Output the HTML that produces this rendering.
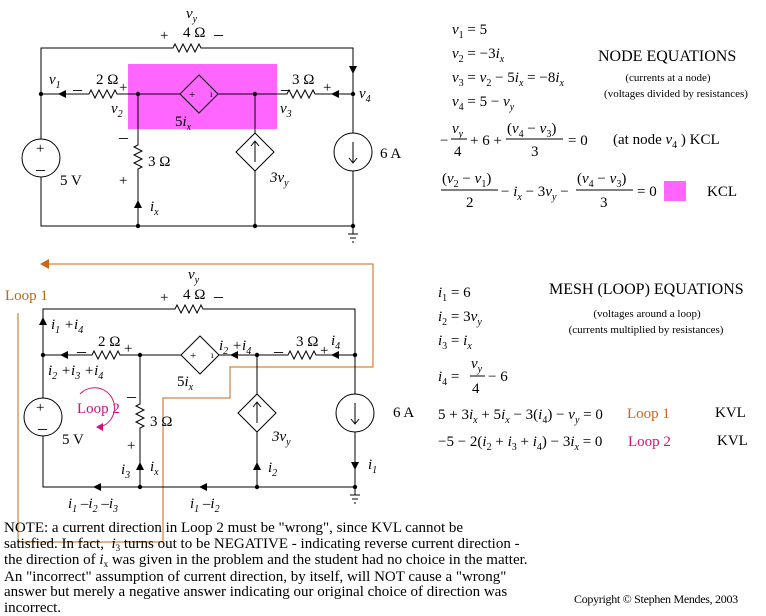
<!DOCTYPE html>
<html><head><meta charset="utf-8"><style>
html,body{margin:0;padding:0;background:#fff;}
svg{display:block;font-family:"Liberation Serif",serif;}
.t{font-size:15px;}
.i{font-style:italic;}
.s{font-size:11px;}
.note{position:absolute;left:4px;top:521px;font:15px/15.6px "Liberation Serif",serif;letter-spacing:0px;color:#000;white-space:nowrap;}
.sb{font-size:9px;position:relative;top:3px;}
</style></head><body>
<div style="position:relative;width:766px;height:616px;overflow:hidden">
<svg width="766" height="616" viewBox="0 0 766 616" xmlns="http://www.w3.org/2000/svg">
<rect x="128" y="64" width="149" height="65" fill="#ff66ff"/>
<g stroke="#000" stroke-width="1" fill="none">
<path d="M41,139V48H173l2,-4 4,8 4,-8 4,8 4,-8 4,8 4,-8 2,4H353V133"/>
<path d="M353,171V226H41V177"/>
<path d="M41,94H89l2,-4 4,8 4,-8 4,8 4,-8 4,8 4,-8 2,4H180"/>
<path d="M218,94H287l2,-4 4,8 4,-8 4,8 4,-8 4,8 4,-8 2,4H353"/>
<path d="M138,94V145l-4,2 8,4 -8,4 8,4 -8,4 8,4 -4,2V226"/>
<path d="M199,75L218,94 199,113 180,94Z"/>
<path d="M255,94V133M255,171V226"/>
<path d="M255,133L274,152 255,171 236,152Z"/>
<circle cx="41" cy="158" r="19"/><circle cx="353" cy="152" r="19"/>
<path d="M255,162V142M251,146L255,141 259,146"/>
<path d="M353,142V162M349,158L353,163 357,158"/>
<path d="M348,234H358M350,238H356M352,242H354M353,226V234"/>
</g>
<g fill="#000">
<path d="M349,66H357L353,74Z"/>
<path d="M58,94L66,90V98Z"/>
<path d="M331,94L339,90V98Z"/>
<path d="M138,200L134,208H142Z"/>
<circle cx="41" cy="94" r="2.2"/><circle cx="138" cy="94" r="2.2"/><circle cx="255" cy="94" r="2.2"/><circle cx="353" cy="94" r="2.2"/>
<circle cx="138" cy="226" r="2.2"/><circle cx="255" cy="226" r="2.2"/><circle cx="353" cy="226" r="2.2"/>
</g>
<g class="t">
<text x="186" y="18" class="i">v<tspan font-size="10" dy="4">y</tspan></text>
<text x="160" y="40">+</text><text x="183" y="37">4 Ω</text><text x="214" y="40" font-size="18">–</text>
<text x="49" y="84" class="i">v<tspan font-size="10" dy="4">1</tspan></text>
<text x="73" y="95" font-size="18">–</text><text x="96" y="84">2 Ω</text><text x="119" y="92">+</text>
<text x="111" y="113" class="i">v<tspan font-size="10" dy="4">2</tspan></text>
<text x="189" y="98" font-size="11">+</text><text x="210" y="97" font-size="9">ı</text>
<text x="175" y="126">5<tspan class="i">i</tspan><tspan font-size="10" dy="4" class="i">x</tspan></text>
<text x="281" y="95" font-size="18">–</text><text x="292" y="84">3 Ω</text><text x="323" y="92">+</text>
<text x="280" y="113" class="i">v<tspan font-size="10" dy="4">3</tspan></text>
<text x="359" y="98" class="i">v<tspan font-size="10" dy="4">4</tspan></text>
<text x="119" y="143" font-size="18">–</text><text x="148" y="166">3 Ω</text><text x="119" y="185">+</text>
<text x="150" y="211" class="i">i<tspan font-size="10" dy="4">x</tspan></text>
<text x="36" y="153">+</text><text x="36" y="175" font-size="18">–</text>
<text x="60" y="185">5 V</text>
<text x="270" y="182" class="i">3v<tspan font-size="10" dy="4">y</tspan></text>
<text x="380" y="158">6 A</text>
</g>

<g stroke="#cc6611" fill="none" stroke-width="1">
<path d="M48,264H373V367H230V398H163V542H18V313"/>
</g>
<path d="M40,264L49,259V269Z" fill="#cc6611"/>
<text x="5" y="300" class="t" fill="#b86a10">Loop 1</text>
<g stroke="#000" stroke-width="1" fill="none">
<path d="M43,398V309H175l2,-4 4,8 4,-8 4,8 4,-8 4,8 4,-8 2,4H355V394"/>
<path d="M355,432V487H43V436"/>
<path d="M43,355H92l2,-4 4,8 4,-8 4,8 4,-8 4,8 4,-8 2,4H181"/>
<path d="M219,355H288l2,-4 4,8 4,-8 4,8 4,-8 4,8 4,-8 2,4H355"/>
<path d="M140,355V404l-4,2 8,4 -8,4 8,4 -8,4 8,4 -4,2V487"/>
<path d="M200,336L219,355 200,374 181,355Z"/>
<path d="M257,355V394M257,432V487"/>
<path d="M257,394L276,413 257,432 238,413Z"/>
<circle cx="43" cy="417" r="19"/><circle cx="355" cy="413" r="19"/>
<path d="M257,423V403M253,407L257,402 261,407"/>
<path d="M355,403V423M351,419L355,424 359,419"/>
<path d="M350,495H360M352,499H358M354,503H356M355,487V495"/>
</g>
<path d="M80,394A20,20 0 1 1 100,427" stroke="#d0107a" fill="none" stroke-width="1"/>
<path d="M96,427L103,423V431Z" fill="#d0107a"/>
<text x="77" y="413" class="t" fill="#d0107a">Loop 2</text>
<g fill="#000">
<path d="M43,317L39,325H47Z"/>
<path d="M60,355L68,351V359Z"/>
<path d="M230,355L238,351V359Z"/>
<path d="M331,355L339,351V359Z"/>
<path d="M140,462L136,470H144Z"/>
<path d="M257,462L253,470H261Z"/>
<path d="M351,462H359L355,470Z"/>
<path d="M93,487L101,483V491Z"/>
<path d="M199,487L207,483V491Z"/>
<circle cx="43" cy="355" r="2.2"/><circle cx="140" cy="355" r="2.2"/><circle cx="257" cy="355" r="2.2"/><circle cx="355" cy="355" r="2.2"/>
<circle cx="140" cy="487" r="2.2"/><circle cx="257" cy="487" r="2.2"/><circle cx="355" cy="487" r="2.2"/>
</g>
<g class="t">
<text x="188" y="279" class="i">v<tspan font-size="10" dy="4">y</tspan></text>
<text x="160" y="302">+</text><text x="183" y="299">4 Ω</text><text x="214" y="302" font-size="18">–</text>
<text x="51" y="329" class="i">i<tspan font-size="10" dy="4">1</tspan><tspan dy="-4"> +i</tspan><tspan font-size="10" dy="4">4</tspan></text>
<text x="77" y="357" font-size="18">–</text><text x="98" y="346">2 Ω</text><text x="124" y="353">+</text>
<text x="48" y="375" class="i">i<tspan font-size="10" dy="4">2</tspan><tspan dy="-4"> +i</tspan><tspan font-size="10" dy="4">3</tspan><tspan dy="-4"> +i</tspan><tspan font-size="10" dy="4">4</tspan></text>
<text x="190" y="359" font-size="11">+</text><text x="211" y="358" font-size="9">ı</text>
<text x="177" y="386">5<tspan class="i">i</tspan><tspan font-size="10" dy="4" class="i">x</tspan></text>
<text x="219" y="350" class="i">i<tspan font-size="10" dy="4">2</tspan><tspan dy="-4"> +i</tspan><tspan font-size="10" dy="4">4</tspan></text>
<text x="274" y="357" font-size="18">–</text><text x="296" y="346">3 Ω</text><text x="320" y="355">+</text>
<text x="331" y="345" class="i">i<tspan font-size="10" dy="4">4</tspan></text>
<text x="127" y="402" font-size="18">–</text><text x="150" y="426">3 Ω</text><text x="127" y="450">+</text>
<text x="36" y="412">+</text><text x="38" y="434" font-size="18">–</text>
<text x="62" y="444">5 V</text>
<text x="121" y="474" class="i">i<tspan font-size="10" dy="4">3</tspan></text>
<text x="150" y="471" class="i">i<tspan font-size="10" dy="4">x</tspan></text>
<text x="272" y="441" class="i">3v<tspan font-size="10" dy="4">y</tspan></text>
<text x="268" y="472" class="i">i<tspan font-size="10" dy="4">2</tspan></text>
<text x="368" y="469" class="i">i<tspan font-size="10" dy="4">1</tspan></text>
<text x="393" y="417">6 A</text>
<text x="68" y="508" class="i">i<tspan font-size="10" dy="4">1</tspan><tspan dy="-4"> –i</tspan><tspan font-size="10" dy="4">2</tspan><tspan dy="-4"> –i</tspan><tspan font-size="10" dy="4">3</tspan></text>
<text x="190" y="508" class="i">i<tspan font-size="10" dy="4">1</tspan><tspan dy="-4"> –i</tspan><tspan font-size="10" dy="4">2</tspan></text>
</g>

<g class="t">
<text x="452" y="34"><tspan class="i">v</tspan><tspan font-size="10" dy="4">1</tspan><tspan dy="-4"> = 5</tspan></text>
<text x="452" y="58"><tspan class="i">v</tspan><tspan font-size="10" dy="4">2</tspan><tspan dy="-4"> = −3</tspan><tspan class="i">i</tspan><tspan font-size="10" dy="4" class="i">x</tspan></text>
<text x="452" y="82"><tspan class="i">v</tspan><tspan font-size="10" dy="4">3</tspan><tspan dy="-4"> = </tspan><tspan class="i">v</tspan><tspan font-size="10" dy="4">2</tspan><tspan dy="-4"> − 5</tspan><tspan class="i">i</tspan><tspan font-size="10" dy="4" class="i">x</tspan><tspan dy="-4"> = −8</tspan><tspan class="i">i</tspan><tspan font-size="10" dy="4" class="i">x</tspan></text>
<text x="452" y="106"><tspan class="i">v</tspan><tspan font-size="10" dy="4">4</tspan><tspan dy="-4"> = 5 − </tspan><tspan class="i">v</tspan><tspan font-size="10" dy="4" class="i">y</tspan></text>
<text x="598" y="61" font-size="16">NODE EQUATIONS</text>
<text x="668" y="81" class="s" text-anchor="middle">(currents at a node)</text>
<text x="676" y="97" class="s" text-anchor="middle">(voltages divided by resistances)</text>
<text x="440" y="145">−</text>
<text x="452" y="133" class="i">v<tspan font-size="10" dy="4">y</tspan></text>
<line x1="451" y1="139" x2="467" y2="139" stroke="#000"/>
<text x="454" y="156">4</text>
<text x="470" y="145">+ 6 +</text>
<text x="507" y="133">(<tspan class="i">v</tspan><tspan font-size="10" dy="4">4</tspan><tspan dy="-4"> − </tspan><tspan class="i">v</tspan><tspan font-size="10" dy="4">3</tspan><tspan dy="-4">)</tspan></text>
<line x1="506" y1="139" x2="563" y2="139" stroke="#000"/>
<text x="531" y="156">3</text>
<text x="568" y="145">= 0</text>
<text x="613" y="144">(at node  <tspan class="i">v</tspan><tspan font-size="10" dy="4">4</tspan><tspan dy="-4">  )   KCL</tspan></text>
<text x="442" y="183">(<tspan class="i">v</tspan><tspan font-size="10" dy="4">2</tspan><tspan dy="-4"> − </tspan><tspan class="i">v</tspan><tspan font-size="10" dy="4">1</tspan><tspan dy="-4">)</tspan></text>
<line x1="441" y1="190" x2="498" y2="190" stroke="#000"/>
<text x="466" y="207">2</text>
<text x="501" y="196">− <tspan class="i">i</tspan><tspan font-size="10" dy="4" class="i">x</tspan><tspan dy="-4"> − 3</tspan><tspan class="i">v</tspan><tspan font-size="10" dy="4" class="i">y</tspan><tspan dy="-4"> −</tspan></text>
<text x="577" y="183">(<tspan class="i">v</tspan><tspan font-size="10" dy="4">4</tspan><tspan dy="-4"> − </tspan><tspan class="i">v</tspan><tspan font-size="10" dy="4">3</tspan><tspan dy="-4">)</tspan></text>
<line x1="576" y1="190" x2="633" y2="190" stroke="#000"/>
<text x="600" y="207">3</text>
<text x="637" y="196">= 0</text>
<rect x="664" y="181" width="22" height="20" fill="#ff66ff"/>
<text x="707" y="196">KCL</text>
</g>

<g class="t">
<text x="438" y="297"><tspan class="i">i</tspan><tspan font-size="10" dy="4">1</tspan><tspan dy="-4"> = 6</tspan></text>
<text x="438" y="321"><tspan class="i">i</tspan><tspan font-size="10" dy="4">2</tspan><tspan dy="-4"> = 3</tspan><tspan class="i">v</tspan><tspan font-size="10" dy="4" class="i">y</tspan></text>
<text x="438" y="345"><tspan class="i">i</tspan><tspan font-size="10" dy="4">3</tspan><tspan dy="-4"> = </tspan><tspan class="i">i</tspan><tspan font-size="10" dy="4" class="i">x</tspan></text>
<text x="438" y="381"><tspan class="i">i</tspan><tspan font-size="10" dy="4">4</tspan><tspan dy="-4"> = </tspan></text>
<text x="471" y="368" class="i">v<tspan font-size="10" dy="4">y</tspan></text>
<line x1="470" y1="376" x2="485" y2="376" stroke="#000"/>
<text x="472" y="393">4</text>
<text x="488" y="381">− 6</text>
<text x="549" y="294" font-size="16">MESH  (LOOP) EQUATIONS</text>
<text x="647" y="317" class="s" text-anchor="middle">(voltages around a loop)</text>
<text x="646" y="333" class="s" text-anchor="middle">(currents multiplied by resistances)</text>
<text x="438" y="419">5 + 3<tspan class="i">i</tspan><tspan font-size="10" dy="4" class="i">x</tspan><tspan dy="-4"> + 5</tspan><tspan class="i">i</tspan><tspan font-size="10" dy="4" class="i">x</tspan><tspan dy="-4"> − 3(</tspan><tspan class="i">i</tspan><tspan font-size="10" dy="4">4</tspan><tspan dy="-4">) − </tspan><tspan class="i">v</tspan><tspan font-size="10" dy="4" class="i">y</tspan><tspan dy="-4"> = 0</tspan></text>
<text x="627" y="418" fill="#cc6611">Loop 1</text>
<text x="715" y="417">KVL</text>
<text x="438" y="446">−5 − 2(<tspan class="i">i</tspan><tspan font-size="10" dy="4">2</tspan><tspan dy="-4"> + </tspan><tspan class="i">i</tspan><tspan font-size="10" dy="4">3</tspan><tspan dy="-4"> + </tspan><tspan class="i">i</tspan><tspan font-size="10" dy="4">4</tspan><tspan dy="-4">) − 3</tspan><tspan class="i">i</tspan><tspan font-size="10" dy="4" class="i">x</tspan><tspan dy="-4"> = 0</tspan></text>
<text x="628" y="446" fill="#d0107a">Loop 2</text>
<text x="717" y="445">KVL</text>
</g>
<text x="574" y="603" font-size="12" letter-spacing="-0.3">Copyright © Stephen Mendes, 2003</text>
</svg>
<div class="note">NOTE: a current direction in Loop 2 must be "wrong", since KVL cannot be<br>satisfied. In fact,&nbsp; <i>i</i><span class="sb">3</span> turns out to be NEGATIVE - indicating reverse current direction -<br>the direction of <i>i</i><span class="sb">x</span> was given in the problem and the student had no choice in the matter.<br>An "incorrect" assumption of current direction, by itself, will NOT cause a "wrong"<br>answer but merely a negative answer indicating our original choice of direction was<br>incorrect.</div>
</div>
</body></html>
